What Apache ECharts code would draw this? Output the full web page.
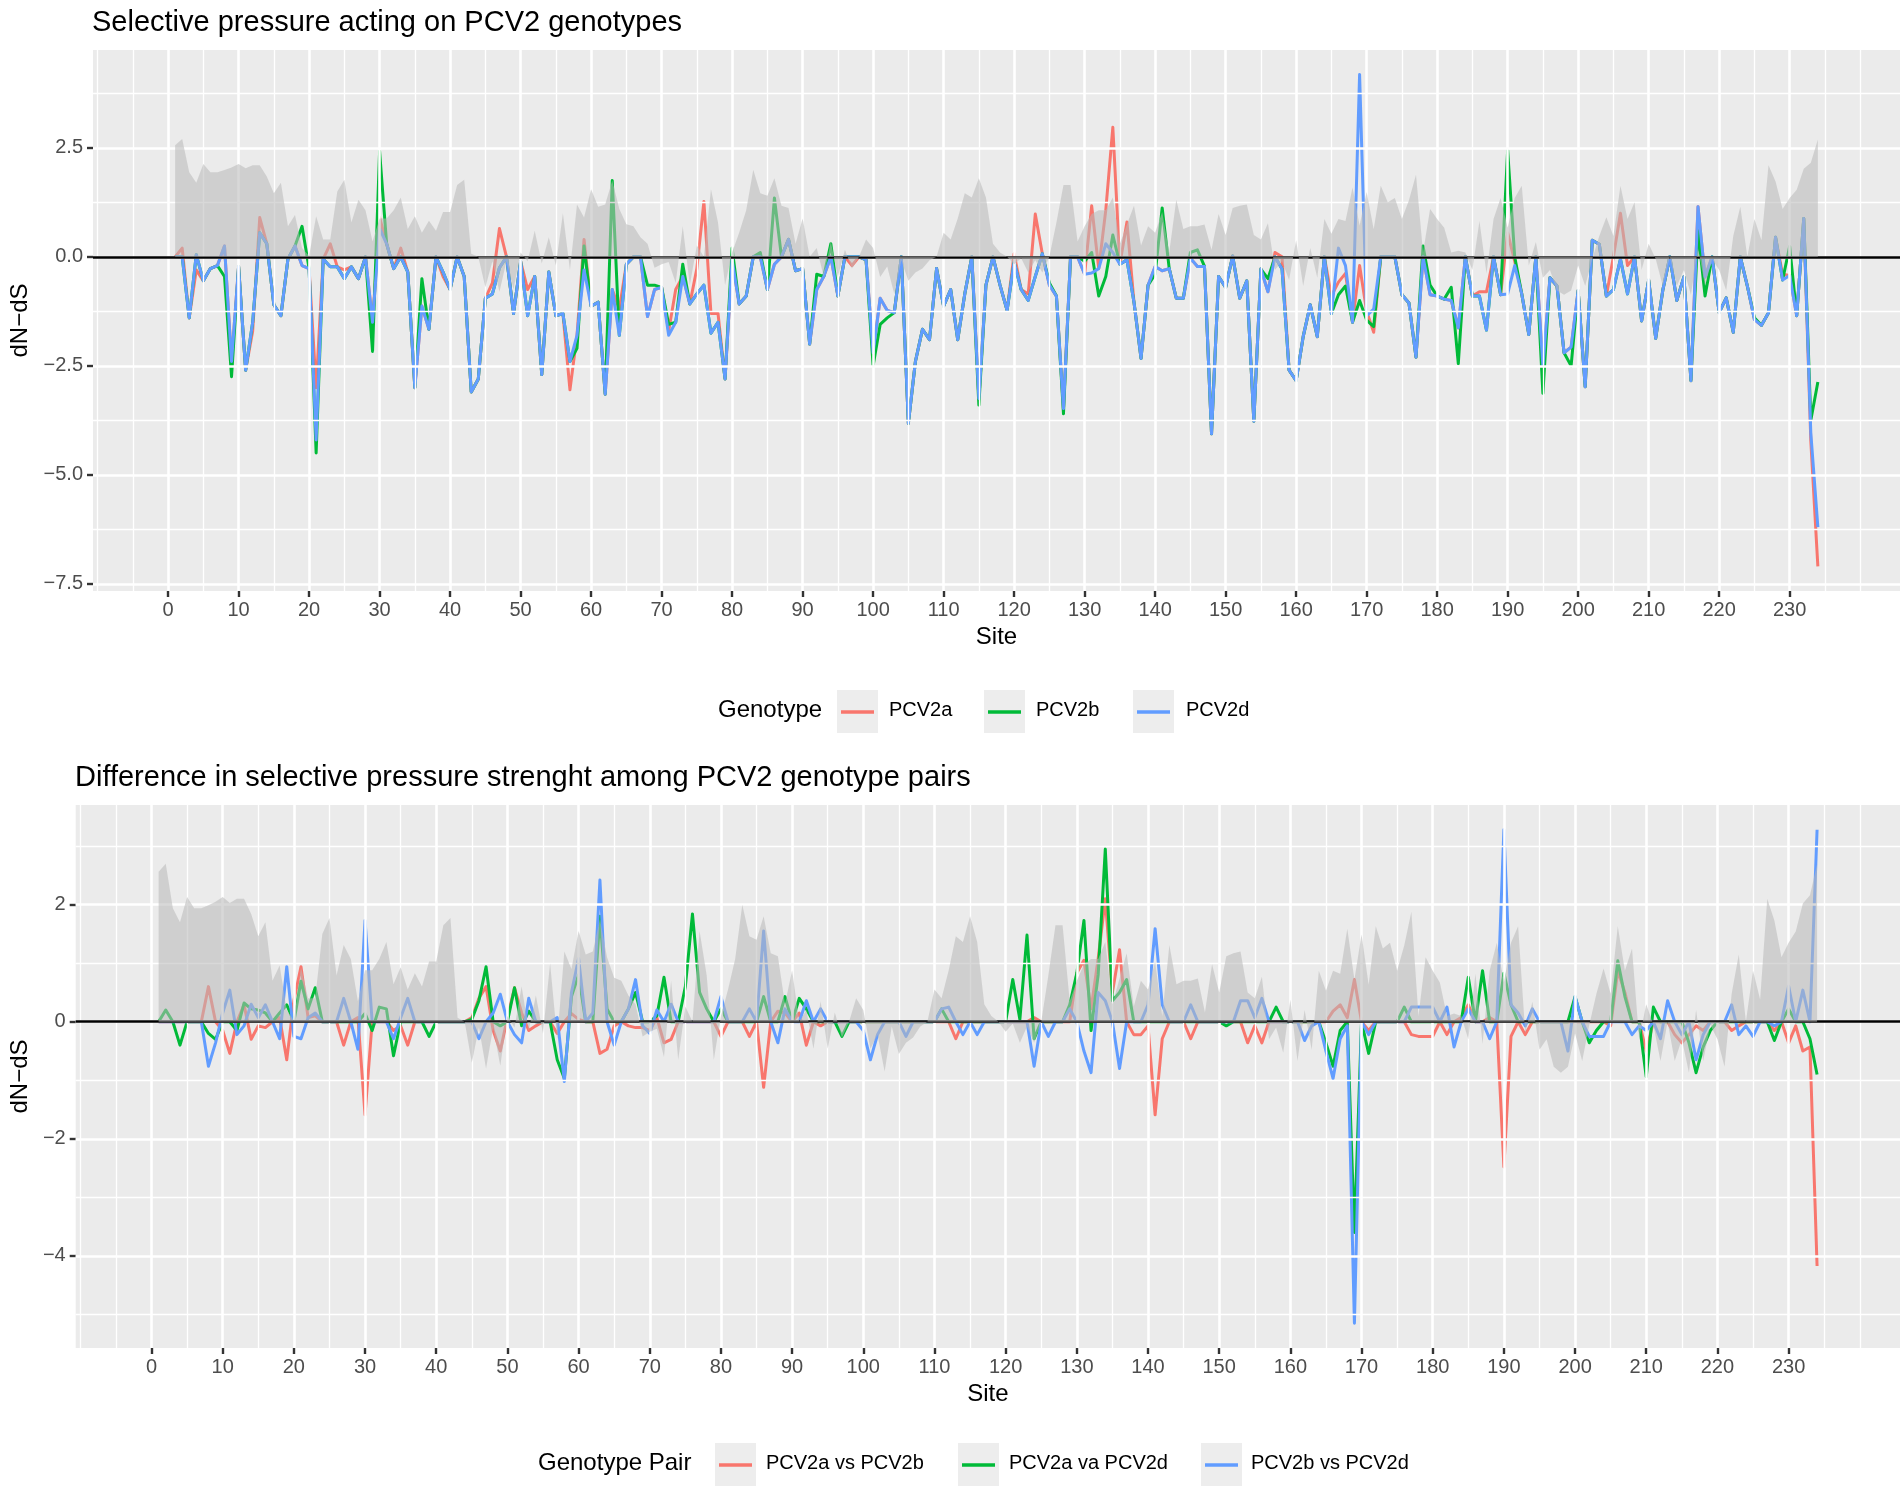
<!DOCTYPE html>
<html>
<head>
<meta charset="utf-8">
<title>Selective pressure on PCV2 genotypes</title>
<script src="https://cdn.jsdelivr.net/npm/echarts@6/dist/echarts.min.js"></script>
<style>
  html, body { margin: 0; padding: 0; background: #fff; }
  #chart { width: 1902px; height: 1491px; }
</style>
</head>
<body>
<div id="chart"></div>
<script>
// dN-dS per codon site
var topA = [
  0, 0.2, -1.4, -0.3, -0.55, -0.27, -0.2, 0.25, -2.4, -0.22,
  -2.6, -1.7, 0.9, 0.3, -1.1, -1.35, -0.05, 0.25, -0.2, -0.27,
  -3.0, -0.05, 0.3, -0.23, -0.3, -0.23, -0.5, 0, -1.5, 0.9,
  0.3, -0.27, 0.2, -0.35, -3.0, -1.13, -1.66, 0, -0.45, -0.75,
  0, -0.45, -3.1, -2.8, -0.95, -0.6, 0.65, 0, -1.3, -0.1,
  -0.75, -0.45, -2.7, -0.35, -1.35, -1.3, -3.05, -1.8, 0.4, -1.13,
  -1.04, -3.15, -0.75, -1.2, -0.17, 0, 0, -1.37, -0.75, -0.7,
  -1.7, -0.75, -0.45, -1.08, -0.27, 1.27, -1.3, -1.3, -2.8, -0.07,
  -1.08, -0.9, 0, 0, -0.75, -0.17, 0, 0.4, -0.32, -0.27,
  -2.0, -0.75, -0.45, 0, -0.9, 0, -0.2, 0, -0.07, -2.2,
  -0.95, -1.23, -1.28, 0, -3.82, -2.4, -1.66, -1.9, -0.27, -1.13,
  -0.75, -1.9, -0.85, 0, -3.25, -0.65, 0, -0.65, -1.23, 0.07,
  -0.75, -0.85, 0.98, 0.07, -0.65, -0.9, -3.48, 0, 0, -0.4,
  1.17, -0.27, 1.07, 2.97, -0.17, 0.8, -1.04, -2.33, -0.65, -0.22,
  -0.32, -0.27, -0.95, -0.95, -0.03, -0.22, -0.22, -4.06, -0.45, -0.7,
  0.02, -0.95, -0.55, -3.77, -0.28, -0.8, 0.1, 0, -2.6, -2.84,
  -1.83, -1.1, -1.83, 0, -0.9, -0.58, -0.38, -1.5, -0.2, -1.25,
  -1.73, 0, 0, 0, -0.87, -1.06, -2.3, 0, -0.87, -0.9,
  -0.97, -1.0, -1.63, 0, -0.9, -0.8, -0.8, 0, -0.87, 0.55,
  -0.1, -0.85, -1.78, 0, -2.5, -0.48, -0.67, -2.2, -2.07, -0.77,
  -2.98, 0.38, 0.29, -0.9, 0, 1.0, -0.2, 0, -1.47, -0.53,
  -1.87, -0.77, 0, -1.0, -0.46, -2.84, 1.15, -0.46, 0, -1.28,
  -0.94, -1.73, 0, -0.67, -1.44, -1.57, -1.28, 0.45, -0.4, -0.43,
  -1.35, 0.88, -4.23, -7.1
];
var topB = [
  0, 0, -1.4, 0.05, -0.55, -0.27, -0.2, -0.45, -2.75, -0.22,
  -2.6, -1.5, 0.55, 0.3, -1.1, -1.35, -0.05, 0.25, 0.7, -0.27,
  -4.5, -0.05, -0.23, -0.23, -0.5, -0.23, -0.5, 0, -2.17, 2.42,
  0.3, -0.27, 0, -0.35, -3.0, -0.5, -1.66, 0, -0.35, -0.75,
  0, -0.45, -3.1, -2.8, -0.95, -0.85, -0.25, 0, -1.3, -0.1,
  -1.35, -0.45, -2.7, -0.35, -1.35, -1.3, -2.4, -2.1, 0.25, -1.13,
  -1.04, -3.15, 1.75, -1.8, -0.17, 0, 0, -0.65, -0.65, -0.7,
  -1.55, -1.5, -0.17, -1.08, -0.85, -0.65, -1.75, -1.5, -2.8, 0.2,
  -1.08, -0.9, 0, 0.1, -0.75, 1.35, 0, 0.4, -0.32, -0.27,
  -2.0, -0.4, -0.45, 0.3, -0.9, 0, 0, 0, -0.07, -2.5,
  -1.55, -1.4, -1.28, 0, -3.82, -2.4, -1.66, -1.9, -0.27, -1.13,
  -0.75, -1.9, -0.85, 0, -3.4, -0.65, 0, -0.65, -1.23, -0.12,
  -0.75, -1.0, -0.45, 0.07, -0.6, -0.9, -3.6, 0, 0, -0.1,
  0.1, -0.9, -0.45, 0.5, -0.17, -0.07, -1.04, -2.33, -0.65, -0.4,
  1.12, -0.27, -0.95, -0.95, 0.1, 0.16, -0.22, -4.06, -0.45, -0.7,
  0.02, -0.95, -0.55, -3.77, -0.28, -0.5, 0, -0.28, -2.6, -2.84,
  -1.83, -1.1, -1.83, 0, -1.3, -0.87, -0.67, -1.5, -1.0, -1.45,
  -1.6, 0, 0, 0, -0.87, -1.06, -2.3, 0.25, -0.65, -0.9,
  -0.97, -0.7, -2.45, 0, -0.9, -0.9, -1.68, 0, -0.87, 2.45,
  0, -0.85, -1.78, 0, -3.13, -0.48, -0.67, -2.2, -2.5, -0.77,
  -2.98, 0.38, 0.29, -0.9, -0.75, -0.05, -0.85, 0, -1.47, -0.53,
  -1.87, -0.77, 0, -1.0, -0.46, -2.84, 0.6, -0.9, 0, -1.28,
  -0.94, -1.73, 0, -0.67, -1.4, -1.57, -1.28, 0.45, -0.53, 0.24,
  -1.35, 0.88, -3.75, -2.87
];
var topD = [
  0, 0, -1.4, 0.05, -0.55, -0.27, -0.2, 0.25, -2.4, -0.22,
  -2.6, -1.5, 0.55, 0.3, -1.1, -1.35, -0.05, 0.25, -0.2, -0.27,
  -4.2, -0.05, -0.23, -0.23, -0.5, -0.23, -0.5, 0, -1.5, 0.65,
  0.3, -0.27, 0, -0.35, -3.0, -1.13, -1.66, 0, -0.35, -0.75,
  0, -0.45, -3.1, -2.8, -0.95, -0.85, -0.25, 0, -1.3, -0.1,
  -1.35, -0.45, -2.7, -0.35, -1.35, -1.3, -2.4, -1.8, -0.3, -1.13,
  -1.04, -3.15, -0.75, -1.8, -0.17, 0, 0, -1.37, -0.75, -0.7,
  -1.8, -1.5, -0.45, -1.08, -0.85, -0.65, -1.75, -1.5, -2.8, -0.07,
  -1.08, -0.9, 0, 0, -0.75, -0.17, 0, 0.4, -0.32, -0.27,
  -2.0, -0.75, -0.45, 0, -0.9, 0, 0, 0, -0.07, -2.2,
  -0.95, -1.23, -1.28, 0, -3.82, -2.4, -1.66, -1.9, -0.27, -1.13,
  -0.75, -1.9, -0.85, 0, -3.25, -0.65, 0, -0.65, -1.23, -0.12,
  -0.75, -1.0, -0.45, 0.07, -0.65, -0.9, -3.48, 0, 0, -0.4,
  -0.37, -0.27, 0.3, 0.1, -0.17, -0.07, -1.04, -2.33, -0.65, -0.22,
  -0.32, -0.27, -0.95, -0.95, -0.03, -0.22, -0.22, -4.06, -0.45, -0.7,
  0.02, -0.95, -0.55, -3.77, -0.28, -0.8, 0, -0.28, -2.6, -2.84,
  -1.83, -1.1, -1.83, 0, -1.3, 0.2, -0.2, -1.5, 4.18, -1.35,
  -1.2, 0, 0, 0, -0.87, -1.06, -2.3, 0, -0.87, -0.9,
  -0.97, -1.0, -1.63, 0, -0.9, -0.9, -1.68, 0, -0.87, -0.85,
  -0.2, -0.85, -1.78, 0, -2.5, -0.48, -0.67, -2.2, -2.07, -0.77,
  -2.98, 0.38, 0.29, -0.9, -0.75, -0.05, -0.85, 0, -1.47, -0.53,
  -1.87, -0.77, 0, -1.0, -0.46, -2.84, 1.15, -0.46, 0, -1.28,
  -0.94, -1.73, 0, -0.67, -1.44, -1.57, -1.28, 0.45, -0.53, -0.43,
  -1.35, 0.88, -4.04, -6.2
];
// pairwise differences (lower panel)
var diffAB = [
  0, 0, 0, 0, 0, 0, 0, 0.6, 0, -0.15,
  -0.54, 0, 0.29, -0.3, -0.07, -0.1, 0, 0.07, -0.65, 0.36,
  0.94, 0.07, 0.1, 0, 0, 0, -0.4, 0, 0.07, -1.59,
  0, 0, 0, -0.15, -0.07, -0.4, 0, 0, 0, 0,
  0, 0, 0, 0, 0.07, 0.4, 0.6, -0.15, -0.5, 0.07,
  0.58, 0.15, -0.15, -0.07, 0, 0, -0.2, 0, 0.14, 0.04,
  0, 0, -0.54, -0.47, -0.07, 0, -0.07, -0.1, -0.1, -0.15,
  0.07, -0.36, -0.3, 0, 0, 0, 0, 0, 0, -0.25,
  0, 0, 0, -0.25, 0, -1.12, 0, 0.18, 0.15, 0,
  0.15, -0.4, 0, -0.07, 0, 0, 0, 0, 0, 0,
  0, 0, 0, 0, 0, 0, 0, 0, 0, 0,
  0, 0, -0.29, 0, 0, 0, 0, 0, 0, 0,
  0, 0, 0, 0.07, 0, 0, 0, 0, 0, 0.83,
  1.05, 0.22, 1.08, 2.1, 0.5, 1.23, 0, -0.22, -0.22, -0.07,
  -1.59, -0.29, 0, 0, 0, -0.29, 0, 0, 0, 0,
  0, 0, 0, -0.36, -0.07, -0.36, 0, 0, 0, 0,
  0, 0, 0, 0, 0, 0.18, 0.29, 0.07, 0.72, 0,
  -0.15, 0, 0, 0, 0, 0, -0.22, -0.25, -0.25, -0.25,
  0, -0.22, 0, 0.07, 0.29, 0, 0, 0.07, 0, -2.48,
  -0.25, 0, -0.22, 0, 0, 0, 0, 0, 0, 0,
  0, 0, 0, 0, -0.07, 0.87, 0.5, 0, 0, -0.5,
  0, 0, 0, -0.22, -0.36, -0.22, -0.07, -0.15, 0, 0,
  0, -0.15, -0.07, 0, 0, 0, 0, -0.15, 0, -0.36,
  -0.07, -0.5, -0.43, -4.17
];
var diffAD = [
  0, 0.2, 0, -0.4, 0, 0, 0, -0.2, -0.3, 0,
  0, -0.15, 0.32, 0.22, 0.2, 0.15, 0, 0.15, 0.29, 0,
  0.69, 0.22, 0.58, 0, 0, 0, 0, 0, 0, 0.14,
  -0.15, 0.25, 0.22, -0.58, 0, 0, 0, 0, -0.25, 0,
  0, 0, 0, 0, 0.04, 0.36, 0.94, 0, -0.07, 0,
  0.58, -0.07, 0.18, 0, 0, 0, -0.65, -0.97, 0.43, 0.8,
  0, 0, 1.8, 0.22, 0, 0, 0.22, 0.5, 0, 0,
  0.1, 0.76, 0, 0, 0.6, 1.84, 0.5, 0.22, 0, 0.22,
  0, 0, 0, 0, 0, 0.43, 0, 0, 0.43, 0,
  0.4, 0.22, 0, 0, 0, 0, -0.25, 0, 0, 0,
  0, 0, 0, 0, 0, 0, 0, 0, 0, 0,
  0.22, 0, 0, 0, 0, 0, 0, 0, 0, 0,
  0.72, 0.04, 1.48, -0.29, 0, 0, 0, 0, 0.29, 0.83,
  1.73, -0.15, 0.8, 2.95, 0.36, 0.5, 0.72, 0, 0, 0,
  0, 0, 0, 0, 0, 0, 0, 0, 0, 0,
  -0.07, 0, 0, 0, 0, 0, 0, 0.25, 0, 0,
  0, 0, 0, 0, -0.36, -0.76, -0.15, 0, -3.6, 0,
  -0.54, 0, 0, 0, 0, 0.25, 0, 0, 0, 0,
  0, 0, 0, 0, 0.76, 0, 0.87, 0, 0, 0.83,
  0.29, 0, 0, 0, 0, 0, 0, 0, 0, 0.43,
  0, -0.36, -0.15, 0, 0, 1.04, 0.43, 0, 0, -0.94,
  0.25, 0, 0, 0, 0, -0.36, -0.87, -0.43, -0.15, 0,
  0, 0, 0, 0, 0, 0, 0, -0.32, 0, 0.22,
  0, 0, -0.29, -0.9
];
var diffBD = [
  0, 0, 0, 0, 0, 0, 0, -0.76, -0.36, 0.15,
  0.54, -0.22, -0.07, 0.3, 0.07, 0.29, 0, -0.29, 0.94, -0.25,
  -0.29, 0.07, 0.15, 0, 0, 0, 0.4, 0, -0.47, 1.73,
  0, 0, 0, -0.29, 0.07, 0.4, 0, 0, 0, 0,
  0, 0, 0, 0, 0, -0.29, 0, 0.15, 0.47, 0,
  -0.22, -0.36, 0.4, 0, 0, 0, 0.07, -1.02, 0.5, 1.08,
  0, 0.15, 2.42, 0, -0.4, 0, 0.22, 0.72, -0.07, -0.2,
  0.2, 0, 0.3, 0, 0, 0, 0, 0, 0, 0.43,
  0, 0, 0, 0.22, 0, 1.55, 0, -0.36, 0.22, 0,
  0, 0.36, 0, 0.22, 0, 0, 0, 0, 0, -0.15,
  -0.65, -0.22, 0, 0, 0, -0.25, 0, 0, 0, 0,
  0.22, 0.25, 0, -0.22, 0, -0.22, 0, 0, 0, 0,
  0, 0, 0, -0.76, 0, -0.25, 0, 0, 0.22, 0,
  -0.5, -0.87, 0.5, 0.36, 0, -0.8, 0, 0, 0, 0.29,
  1.59, 0.29, 0, 0, 0, 0.29, 0, 0, 0, 0,
  0, 0, 0.36, 0.36, 0.07, 0.4, 0, 0, 0, 0,
  0, -0.32, -0.07, 0, -0.5, -0.97, -0.29, -0.07, -5.15, 0,
  -0.22, 0, 0, 0, 0, 0, 0.25, 0.25, 0.25, 0.25,
  0, 0.25, -0.43, 0, 0.22, 0, 0, -0.29, 0, 3.28,
  0.29, 0.15, -0.07, 0.22, 0, 0, 0, 0, -0.5, 0.43,
  0, -0.25, -0.25, -0.25, 0, 0, 0, -0.22, -0.07, -0.15,
  0, -0.29, 0.36, 0, -0.22, 0, -0.65, -0.22, 0, 0,
  0, 0.29, -0.22, -0.07, -0.25, 0, 0, -0.07, 0, 0.61,
  0, 0.54, 0, 3.28
];
// grey background band, same in both panels
var shade = [
  2.56, 2.7, 1.94, 1.7, 2.13, 1.94, 1.94, 1.99, 2.05, 2.13,
  2.03, 2.1, 2.1, 1.84, 1.46, 1.7, 0.7, 0.96, 0.2, 0.02,
  0.93, 0.4, 0.4, 1.5, 1.77, 0.79, 1.31, 1.07, 0.35, 0.88,
  0.88, 1.07, 1.36, 0.64, 0.93, 0.55, 0.83, 0.6, 1.03, 1.03,
  1.65, 1.77, 0.07, 0, -0.7, -0.1, -0.8, -0.1, -0.75, 0.1,
  -0.1, 0.6, -0.15, 0.45, -0.2, 1.0, -0.3, 1.2, 0.9, 1.55,
  1.15, 1.2, 1.75, 1.1, 0.75, 0.7, 0.45, 0.3, -0.25, -0.17,
  -0.12, -0.6, 0.7, -0.65, 0.26, 0, 1.55, 0.79, -0.65, 0.1,
  0.55, 1.07, 2.0, 1.46, 1.4, 1.8, 1.17, 1.12, 0.3, 0.88,
  0, 0.2, -0.46, 0.35, -0.46, 0.16, -0.27, 0, 0.4, 0.2,
  -0.46, -0.22, -0.85, -0.08, -0.55, -0.36, -0.27, -0.08, 0, 0.55,
  0.4, 0.88, 1.46, 1.36, 1.8, 1.36, 0.3, 0.1, 0, -0.17,
  -0.03, -0.36, -0.08, -0.36, 0, 0.79, 1.65, 1.65, 0.35, 0.7,
  0.98, 1.07, 1.07, 1.36, 0.3, 0.74, 1.17, 0.26, 0.7, 0.55,
  1.03, 0.1, 1.31, 0.64, 0.7, 0.7, 0.74, 0.16, 0.98, 0.5,
  1.12, 1.17, 1.2, 0.5, 0.4, 0.77, -0.3, -0.1, -0.53, 0.38,
  -0.67, 0.2, -0.48, 0.87, 0.53, 0.87, 0.82, 1.59, 0.72, 1.49,
  0.63, 1.63, 1.25, 1.35, 0.87, 1.3, 1.88, 0.1, 1.1, 0.87,
  0.67, 0.1, 0.14, 0.1, -0.3, 0.82, -0.38, 0.87, 1.35, 0.67,
  1.35, 1.63, -0.2, 0.34, -0.48, -0.3, -0.77, -0.87, -0.77, -0.2,
  -0.67, -0.05, 0.48, 0.91, 0.48, 1.63, 0.87, 1.25, -0.3, 0.3,
  -0.05, -0.67, 0, -0.67, -0.3, -0.87, 0.2, -0.67, -0.05, -0.3,
  -0.77, 0.48, 1.15, 0, 0.87, 0.38, 2.1, 1.73, 1.1, 1.35,
  1.54, 2.02, 2.16, 2.69
];

var topNames = ['PCV2a', 'PCV2b', 'PCV2d'];
var pairNames = ['PCV2a vs PCV2b', 'PCV2a va PCV2d', 'PCV2b vs PCV2d'];
var xBreaks = [0, 10, 20, 30, 40, 50, 60, 70, 80, 90, 100, 110, 120, 130, 140, 150, 160, 170, 180, 190, 200, 210, 220, 230];
var yBreaksTop = [-7.5, -5.0, -2.5, 0, 2.5];
var yBreaksBottom = [-4, -2, 0, 2];

var sites = topA.map(function (v, i) { return i + 1; });
var colors = ['#F8766D', '#00BA38', '#619CFF'];
var FONT = 'Liberation Sans, Arial, sans-serif';

// ggplot-like limits: data range widened by 5%
function expand(lo, hi) {
    var d = (hi - lo) * 0.05;
    return [lo - d, hi + d];
}
function minorOf(breaks, lim) {
    var step = breaks[1] - breaks[0];
    var b = [breaks[0] - step].concat(breaks, [breaks[breaks.length - 1] + step]);
    var out = [];
    for (var i = 0; i < b.length - 1; i++) {
        out.push(b[i], (b[i] + b[i + 1]) / 2);
    }
    out.push(b[b.length - 1]);
    return out.filter(function (v) {
        return v >= lim[0] && v <= lim[1] && breaks.indexOf(v) < 0;
    });
}
function pairs(vals) {
    return vals.map(function (v, i) { return [sites[i], v]; });
}
function minusFmt(digits) {
    return function (v) {
        var s = Math.abs(v).toFixed(digits);
        return v < 0 ? '\u2212' + s : s;
    };
}

var xLim = expand(sites[0], sites[sites.length - 1]);
var yLimTop = expand(Math.min.apply(null, topA.concat(topB, topD, shade)), Math.max.apply(null, topA.concat(topB, topD, shade)));
var yLimBottom = expand(Math.min.apply(null, diffAB.concat(diffAD, diffBD, shade)), Math.max.apply(null, diffAB.concat(diffAD, diffBD, shade)));

var majorLine = { color: '#ffffff', width: 2.6, type: 'solid' };
var minorLine = { color: '#ffffff', width: 1.3, type: 'solid' };

function gridLines(yBreaks, yLim) {
    var d = [];
    minorOf(xBreaks, xLim).forEach(function (v) { d.push({ xAxis: v, lineStyle: minorLine }); });
    minorOf(yBreaks, yLim).forEach(function (v) { d.push({ yAxis: v, lineStyle: minorLine }); });
    xBreaks.forEach(function (v) { d.push({ xAxis: v, lineStyle: majorLine }); });
    yBreaks.forEach(function (v) { d.push({ yAxis: v, lineStyle: majorLine }); });
    return d;
}

function xAxisFor(idx) {
    return {
        type: 'value', gridIndex: idx, min: xLim[0], max: xLim[1],
        axisLine: { show: false, onZero: false },
        axisTick: { show: true, customValues: xBreaks, length: 6, lineStyle: { color: '#333333', width: 2.4 } },
        axisLabel: { customValues: xBreaks, margin: 9, color: '#4D4D4D', fontSize: 20, fontFamily: FONT },
        splitLine: { show: false },
        name: 'Site', nameLocation: 'middle', nameGap: 34,
        nameTextStyle: { fontSize: 24, color: '#000', fontFamily: FONT }
    };
}
function yAxisFor(idx, breaks, lim, digits, gap) {
    return {
        type: 'value', gridIndex: idx, min: lim[0], max: lim[1],
        axisLine: { show: false, onZero: false },
        axisTick: { show: true, customValues: breaks, length: 6, lineStyle: { color: '#333333', width: 2.4 } },
        axisLabel: { customValues: breaks, margin: 10, color: '#4D4D4D', fontSize: 20, fontFamily: FONT, formatter: minusFmt(digits) },
        splitLine: { show: false },
        name: 'dN\u2212dS', nameLocation: 'middle', nameRotate: 90, nameGap: gap,
        nameTextStyle: { fontSize: 24, color: '#000', fontFamily: FONT }
    };
}

function panelSeries(idx, lists, names, yBreaks, yLim) {
    var out = [];
    out.push({
        type: 'line', xAxisIndex: idx, yAxisIndex: idx, data: [[sites[0], 0]],
        symbol: 'none', lineStyle: { opacity: 0 }, silent: true, z: 1,
        markLine: { silent: true, symbol: ['none', 'none'], label: { show: false }, animation: false, data: gridLines(yBreaks, yLim) }
    });
    lists.forEach(function (vals, k) {
        out.push({
            name: names[k], type: 'line', xAxisIndex: idx, yAxisIndex: idx, data: pairs(vals),
            symbol: 'none', z: 2, lineStyle: { color: colors[k], width: 3, join: 'round' }
        });
    });
    // grey band sits over the coloured lines, as in the original
    out.push({
        type: 'line', xAxisIndex: idx, yAxisIndex: idx, data: pairs(shade),
        symbol: 'none', zlevel: 1, z: 3, silent: true,
        lineStyle: { width: 0 },
        areaStyle: { color: 'rgba(186,186,186,0.8)', origin: 0 }
    });
    out.push({
        type: 'line', xAxisIndex: idx, yAxisIndex: idx, data: [[sites[0], 0]],
        symbol: 'none', lineStyle: { opacity: 0 }, silent: true, zlevel: 1, z: 4,
        markLine: { silent: true, symbol: ['none', 'none'], label: { show: false }, animation: false,
            data: [{ yAxis: 0, lineStyle: { color: '#000', width: 2.6, type: 'solid' } }] }
    });
    return out;
}

function legendGraphic(title, names, y, titleX, boxXs, textXs) {
    var els = [{
        type: 'text', left: titleX, top: y - 14,
        style: { text: title, fontSize: 24, fontFamily: FONT, fill: '#000' }
    }];
    names.forEach(function (n, k) {
        els.push({ type: 'rect', shape: { x: boxXs[k], y: y - 22, width: 41, height: 43 }, style: { fill: '#EDEDED' } });
        els.push({ type: 'line', shape: { x1: boxXs[k] + 4, y1: y, x2: boxXs[k] + 37, y2: y }, style: { stroke: colors[k], lineWidth: 3.5 } });
        els.push({ type: 'text', left: textXs[k], top: y - 12, style: { text: n, fontSize: 20, fontFamily: FONT, fill: '#000' } });
    });
    return els;
}

var chart = echarts.init(document.getElementById('chart'), null, { renderer: 'canvas' });
chart.setOption({
    animation: false,
    backgroundColor: '#ffffff',
    title: [
        { text: 'Selective pressure acting on PCV2 genotypes', left: 92, top: 8, padding: 0,
          textStyle: { fontSize: 29, fontWeight: 'normal', color: '#000', fontFamily: FONT } },
        { text: 'Difference in selective pressure strenght among PCV2 genotype pairs', left: 75, top: 763, padding: 0,
          textStyle: { fontSize: 29, fontWeight: 'normal', color: '#000', fontFamily: FONT } }
    ],
    grid: [
        { left: 93, top: 50, width: 1807, height: 541, show: true, backgroundColor: '#EBEBEB', borderWidth: 0 },
        { left: 75, top: 805, width: 1825, height: 543, show: true, backgroundColor: '#EBEBEB', borderWidth: 0 }
    ],
    xAxis: [xAxisFor(0), xAxisFor(1)],
    yAxis: [
        yAxisFor(0, yBreaksTop, yLimTop, 1, 58),
        yAxisFor(1, yBreaksBottom, yLimBottom, 0, 40)
    ],
    series: panelSeries(0, [topA, topB, topD], topNames, yBreaksTop, yLimTop)
        .concat(panelSeries(1, [diffAB, diffAD, diffBD], pairNames, yBreaksBottom, yLimBottom)),
    graphic: legendGraphic('Genotype', topNames, 712, 718, [837, 984, 1133], [889, 1036, 1186])
        .concat(legendGraphic('Genotype Pair', pairNames, 1465, 538, [715, 958, 1201], [766, 1009, 1251]))
});
</script>
</body>
</html>
